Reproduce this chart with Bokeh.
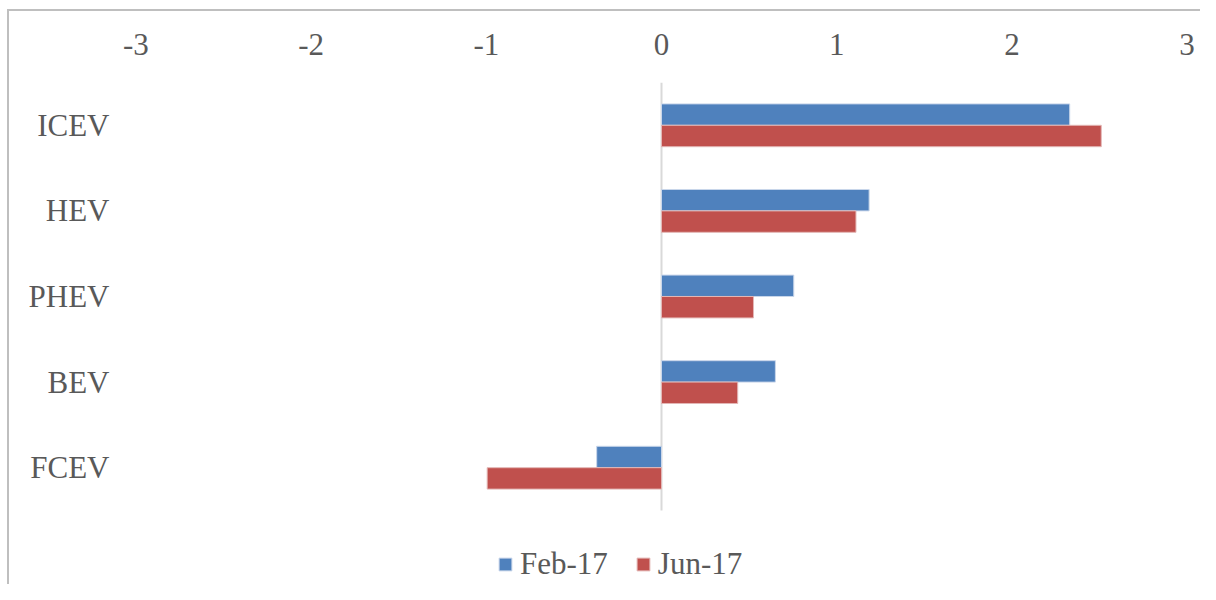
from bokeh.plotting import figure
from bokeh.models import ColumnDataSource, FixedTicker, Legend, LegendItem, Range1d
from bokeh.transform import dodge
from bokeh.embed import file_html
from bokeh.resources import INLINE

categories = ["FCEV", "BEV", "PHEV", "HEV", "ICEV"]
feb17 = [-0.37, 0.65, 0.755, 1.185, 2.33]
jun17 = [-0.995, 0.435, 0.525, 1.11, 2.51]
tick_values = [-3, -2, -1, 0, 1, 2, 3]
tick_labels = ["-3", "-2", "-1", "0", "1", "2", "3"]

FONT = "Liberation Serif"
TXT = "#595959"
FS = "31px"

ypos = list(range(len(categories)))
src = ColumnDataSource(dict(y=ypos, cat=categories, feb=feb17, jun=jun17))

p = figure(frame_width=1088, frame_height=502,
           y_range=Range1d(ypos[0] - 1.3645, ypos[-1] + 0.5), x_range=(-3.1336, 3.0765),
           x_axis_location="above", output_backend="svg", toolbar_location=None,
           min_border_left=112, min_border_right=0, min_border_top=82, min_border_bottom=0)
p.styles = {"background": "linear-gradient(#bfbfbf, #bfbfbf) 7px 9px / 2px 100% no-repeat, "
                          "linear-gradient(#bfbfbf, #bfbfbf) 7px 9px / 100% 2px no-repeat, #ffffff"}
p.border_fill_alpha = 0
p.background_fill_alpha = 0
p.outline_line_color = None
p.xgrid.visible = False
p.ygrid.visible = False

# zero line spanning only the category area
p.segment(x0=[0], y0=[ypos[0] - 0.5], x1=[0], y1=[ypos[-1] + 0.5],
          line_color="#d9d9d9", line_width=2)

rb = p.hbar(y=dodge("y", 0.125), right="feb", left=0, height=0.25,
            source=src, fill_color="#4F81BD", line_color="#c9d6ea", line_width=1)
rr = p.hbar(y=dodge("y", -0.125), right="jun", left=0, height=0.25,
            source=src, fill_color="#C0504D", line_color="#e3b7b6", line_width=1)

xa = p.xaxis[0]
xa.ticker = FixedTicker(ticks=tick_values)
xa.major_label_overrides = {v: l for v, l in zip(tick_values, tick_labels)}
xa.axis_line_color = None
xa.major_tick_line_color = None
xa.minor_tick_line_color = None
xa.major_tick_in = 0
xa.major_tick_out = 0
xa.major_label_text_font = FONT
xa.major_label_text_font_size = FS
xa.major_label_text_color = TXT
xa.major_label_standoff = 28

ya = p.yaxis[0]
ya.ticker = FixedTicker(ticks=ypos)
ya.major_label_overrides = {i: c for i, c in zip(ypos, categories)}
ya.axis_line_color = None
ya.major_tick_line_color = None
ya.minor_tick_line_color = None
ya.major_tick_in = 0
ya.major_tick_out = 0
ya.major_label_text_font = FONT
ya.major_label_text_font_size = FS
ya.major_label_text_color = TXT
ya.major_label_standoff = 3

legend = Legend(items=[LegendItem(label="Feb-17", renderers=[rb]),
                       LegendItem(label="Jun-17", renderers=[rr])],
                orientation="horizontal", location=(385, 2),
                label_text_font=FONT, label_text_font_size=FS, label_text_color=TXT,
                glyph_width=16, glyph_height=16, label_standoff=7, spacing=27,
                padding=0, margin=0, border_line_color=None, background_fill_alpha=0)
p.add_layout(legend)

open("out.html", "w").write(file_html(p, INLINE))
